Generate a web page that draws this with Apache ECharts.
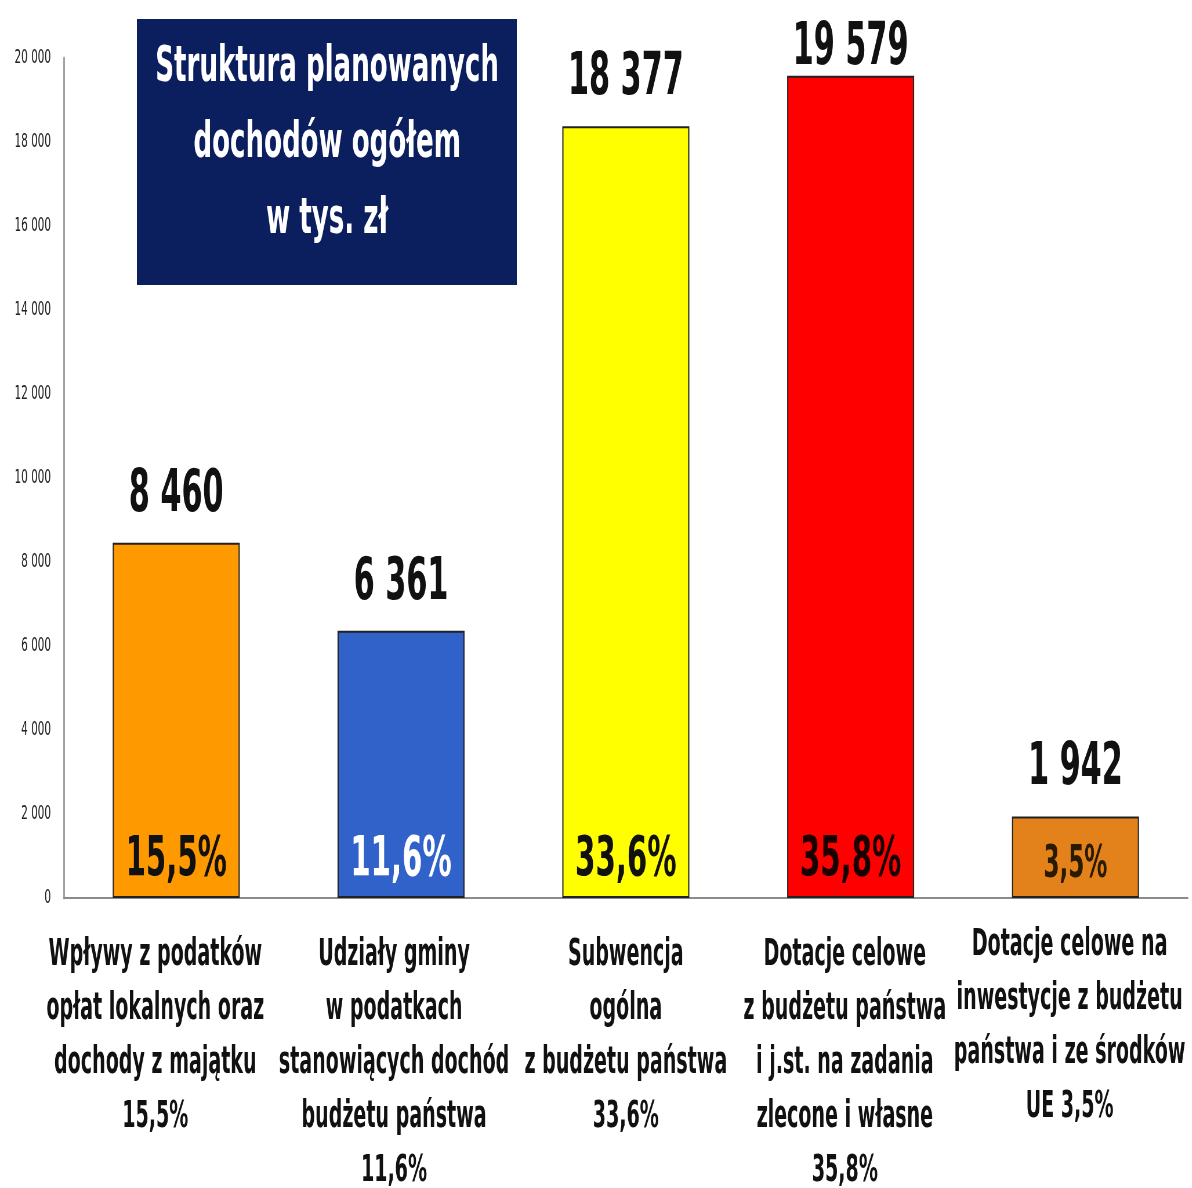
<!DOCTYPE html>
<html>
<head>
<meta charset="utf-8">
<title>Struktura planowanych dochodów ogółem</title>
<script src="https://cdn.jsdelivr.net/npm/echarts@6/dist/echarts.min.js"></script>
<style>
  html, body { margin: 0; padding: 0; background: #fff; overflow: hidden; }
  #wrap { width: 1192px; height: 1188px; overflow: hidden; }
  /* cały wykres jest zwężony w poziomie, jak w oryginale */
  #main { height: 1188px; transform-origin: 0 0; }
</style>
</head>
<body>
<div id="wrap"><div id="main"></div></div>
<script>
// dane z wykresu (tys. zł)
const categories = [
  'Wpływy z podatków\nopłat lokalnych oraz\ndochody z majątku\n15,5%',
  'Udziały gminy\nw podatkach\nstanowiących dochód\nbudżetu państwa\n11,6%',
  'Subwencja\nogólna\nz budżetu państwa\n33,6%',
  'Dotacje celowe\nz budżetu państwa\ni j.st. na zadania\nzlecone i własne\n35,8%',
  'Dotacje celowe na\ninwestycje z budżetu\npaństwa i ze środków\nUE 3,5%'
];
const values = [8460, 6361, 18377, 19579, 1942];
const shares = ['15,5%', '11,6%', '33,6%', '35,8%', '3,5%'];
const barColors = ['#FF9900', '#3162C9', '#FFFF00', '#FF0000', '#E3821B'];
const shareColors = ['#111', '#fff', '#111', '#1a0000', '#2a1a00'];
const shareSizes = [56, 56, 56, 56, 44];
const titleLines = ['Struktura planowanych', 'dochodów ogółem', 'w tys. zł'];

const S = 0.58;                 // zwężenie poziome
const W = Math.round(1192 / S); // szerokość przed zwężeniem
const px = x => Math.round(x / S);

const FONT = '"DejaVu Sans Condensed", "DejaVu Sans", sans-serif';

// przesunięcia podpisów kategorii (jak w oryginale)
const labelPad = [[10, 72, 0, 0], [10, 24, 0, 0], [10, 0, 0, 0], [10, 20, 0, 0], [0, 20, 0, 0]];

function fmt(v) {
  return String(v).replace(/\B(?=(\d{3})+(?!\d))/g, ' ');
}

const el = document.getElementById('main');
el.style.width = W + 'px';
el.style.transform = 'scaleX(' + S + ')';
const myChart = echarts.init(el);

const option = {
  backgroundColor: '#fff',
  animation: false,
  textStyle: { fontFamily: FONT },
  grid: { left: px(64), right: px(4), top: 58, bottom: 290, outerBoundsMode: 'none' },
  xAxis: {
    type: 'category',
    data: categories.map((c, i) => ({ value: c, textStyle: { padding: labelPad[i] } })),
    axisLine: { lineStyle: { color: '#8c8c8c', width: 2 } },
    axisTick: { show: false },
    axisLabel: {
      interval: 0,
      margin: 21,
      color: '#111',
      fontFamily: FONT,
      fontWeight: 'bold',
      fontSize: 36.5,
      lineHeight: 54
    }
  },
  yAxis: {
    type: 'value',
    min: 0,
    max: 20000,
    interval: 2000,
    axisLine: { show: true, lineStyle: { color: '#a0a0a0', width: 3 } },
    axisTick: { show: false },
    splitLine: { show: false },
    axisLabel: {
      margin: px(13),
      color: '#222',
      fontFamily: FONT,
      fontSize: 20,
      formatter: fmt
    }
  },
  graphic: [
    {
      type: 'rect',
      left: px(137),
      top: 19,
      shape: { width: px(380), height: 266 },
      style: { fill: '#0B1F5E' },
      z: 10
    },
    {
      type: 'text',
      x: px(327),
      y: 144,
      style: {
        text: titleLines.join('\n'),
        fill: '#fff',
        font: 'bold 50px ' + FONT,
        align: 'center',
        verticalAlign: 'middle',
        lineHeight: 76
      },
      z: 11
    }
  ],
  series: [
    {
      type: 'bar',
      barWidth: px(127),
      data: values.map((v, i) => ({
        value: v,
        itemStyle: { color: barColors[i], borderColor: '#222', borderWidth: 2 },
        label: i === 3 ? { distance: -2 } : undefined
      })),
      label: {
        show: true,
        position: 'top',
        distance: 18,
        color: '#111',
        fontFamily: FONT,
        fontWeight: 'bold',
        fontSize: 58,
        formatter: p => fmt(p.value)
      }
    },
    {
      // etykiety procentowe wewnątrz słupków
      type: 'bar',
      barWidth: px(127),
      barGap: '-100%',
      silent: true,
      z: 3,
      data: values.map((v, i) => ({
        value: v,
        itemStyle: { color: 'rgba(0,0,0,0)', borderWidth: 0 },
        label: { color: shareColors[i], fontSize: shareSizes[i] }
      })),
      label: {
        show: true,
        position: 'insideBottom',
        distance: 10,
        fontFamily: FONT,
        fontWeight: 'bold',
        formatter: p => shares[p.dataIndex]
      }
    }
  ]
};

myChart.setOption(option);
</script>
</body>
</html>
